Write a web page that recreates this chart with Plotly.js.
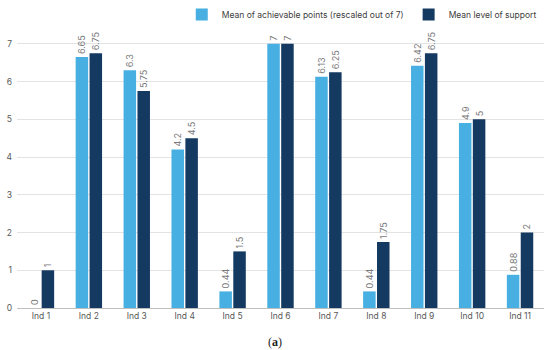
<!DOCTYPE html>
<html>
<head>
<meta charset="utf-8">
<script src="https://cdn.plot.ly/plotly-3.0.1.min.js"></script>
<style>html,body{margin:0;padding:0;background:#fff;}#chart{width:550px;height:350px;}</style>
</head>
<body>
<div id="chart"></div>
<script>
const categories = ["Ind 1","Ind 2","Ind 3","Ind 4","Ind 5","Ind 6","Ind 7","Ind 8","Ind 9","Ind 10","Ind 11"];
const achievable = [0, 6.65, 6.3, 4.2, 0.44, 7, 6.13, 0.44, 6.42, 4.9, 0.88];
const support = [1, 6.75, 5.75, 4.5, 1.5, 7, 6.25, 1.75, 6.75, 5, 2];
const seriesNames = ["Mean of achievable points (rescaled out of 7)", "Mean level of support"];
const yTicks = [0,1,2,3,4,5,6,7];

const fontFam = "Inter, 'Open Sans', 'DejaVu Sans', sans-serif";
const labelFont = {family: fontFam, size: 9, color: "#7a7a7a"};

const traces = [
  {type: "bar", name: seriesNames[0], x: categories, y: achievable,
   marker: {color: "#47AFE2"}, text: achievable.map(String), texttemplate: "%{text}",
   textposition: "outside", textangle: -90, textfont: labelFont, constraintext: "none", cliponaxis: false,
   hoverinfo: "skip"},
  {type: "bar", name: seriesNames[1], x: categories, y: support,
   marker: {color: "#153A62"}, text: support.map(String), texttemplate: "%{text}",
   textposition: "outside", textangle: -90, textfont: labelFont, constraintext: "none", cliponaxis: false,
   hoverinfo: "skip"}
];

const layout = {
  width: 550, height: 350,
  margin: {l: 17, r: 6, t: 25, b: 42, autoexpand: false},
  paper_bgcolor: "#fff", plot_bgcolor: "#fff",
  barmode: "group", bargap: 0.42, bargroupgap: 0.1,
  font: {family: fontFam, size: 9, color: "#595959"},
  showlegend: true,
  legend: {orientation: "h", xref: "container", yref: "container", x: 0.985, xanchor: "right", y: 1.0, yanchor: "top",
           font: {family: fontFam, size: 8.5, color: "#404040"}, itemwidth: 30, tracegroupgap: 0,
           bgcolor: "rgba(0,0,0,0)"},
  xaxis: {type: "category", showgrid: false, showline: true, linecolor: "#bfbfbf", linewidth: 1,
          ticks: "", tickfont: {family: fontFam, size: 8.5, color: "#595959"}, zeroline: false},
  yaxis: {range: [0, 7.5], tickvals: yTicks, showgrid: true, gridcolor: "#e3e3e3", gridwidth: 1,
          zeroline: false, showline: false, ticks: "", ticklabelstandoff: 4,
          tickfont: {family: fontFam, size: 8.5, color: "#595959"}},
  annotations: [{xref: "paper", yref: "paper", x: 0.49, y: -0.12, xanchor: "center", yanchor: "middle",
                 text: "(<b>a</b>)", showarrow: false,
                 font: {family: "'Liberation Serif', 'DejaVu Serif', serif", size: 12, color: "#222"}}]
};

Plotly.newPlot("chart", traces, layout, {staticPlot: true, displayModeBar: false});
</script>
</body>
</html>
